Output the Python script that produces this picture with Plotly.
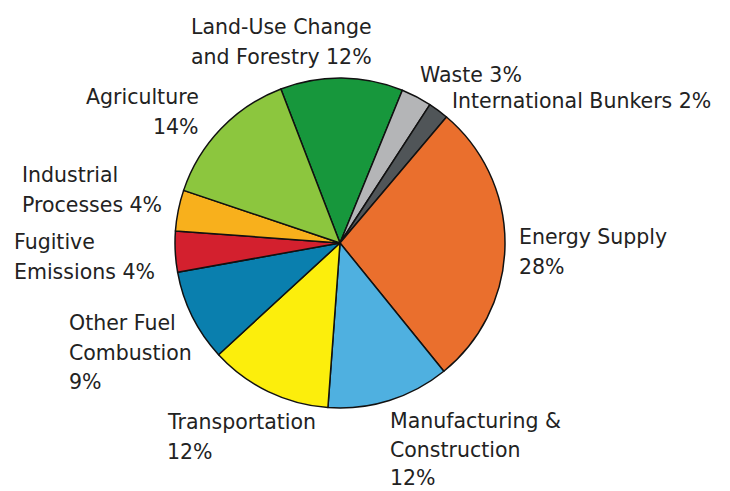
import plotly.graph_objects as go

W, H = 730, 491

categories = ["Land-Use Change and Forestry", "Waste", "International Bunkers",
              "Energy Supply", "Manufacturing & Construction", "Transportation",
              "Other Fuel Combustion", "Fugitive Emissions", "Industrial Processes",
              "Agriculture"]
values = [12, 3, 2, 28, 12, 12, 9, 4, 4, 14]
colors = ["#17973c", "#b4b5b7", "#505558", "#ea6f2d", "#4fb0e0", "#fcee0c",
          "#0a7fae", "#d3202e", "#f8b01c", "#8cc63e"]

label_lines = [
    ["Land-Use Change", "and Forestry 12%"],
    ["Waste 3%"],
    ["International Bunkers 2%"],
    ["Energy Supply", "28%"],
    ["Manufacturing &", "Construction", "12%"],
    ["Transportation", "12%"],
    ["Other Fuel", "Combustion", "9%"],
    ["Fugitive", "Emissions 4%"],
    ["Industrial", "Processes 4%"],
    ["Agriculture", "14%"],
]
# label placement (pixel anchor x, first-line center y, x anchor, line spacing)
label_pos = [
    (281, 27, "center", 29.5),
    (418, 75, "left", 29.5),
    (450, 101, "left", 29.5),
    (517, 237, "left", 29.5),
    (388, 421, "left", 28.5),
    (165, 422, "left", 29.5),
    (67, 323, "left", 29.5),
    (12, 242, "left", 29.5),
    (20, 175, "left", 29.5),
    (201, 97, "right", 29.5),
]

cx, cy, r = 340, 243, 165

fig = go.Figure(go.Pie(
    labels=categories, values=values, sort=False, direction="clockwise",
    rotation=-21,
    marker=dict(colors=colors, line=dict(color="#111111", width=1.5)),
    textinfo="none", hoverinfo="label+percent", showlegend=False,
    domain=dict(x=[(cx - r) / W, (cx + r) / W],
                y=[(H - cy - r) / H, (H - cy + r) / H]),
))

annotations = []
for lines, (px, py, anchor, lh) in zip(label_lines, label_pos):
    for i, line in enumerate(lines):
        y = py + i * lh
        annotations.append(dict(
            x=px / W, y=1 - y / H, xref="paper", yref="paper",
            text=line, showarrow=False, xanchor=anchor, yanchor="middle",
            font=dict(family="DejaVu Sans, Liberation Sans, sans-serif", size=20.5,
                      color="#222222"),
        ))

fig.update_layout(
    width=W, height=H, margin=dict(l=0, r=0, t=0, b=0),
    paper_bgcolor="white", plot_bgcolor="white",
    annotations=annotations,
)

fig.write_html("out.html")
